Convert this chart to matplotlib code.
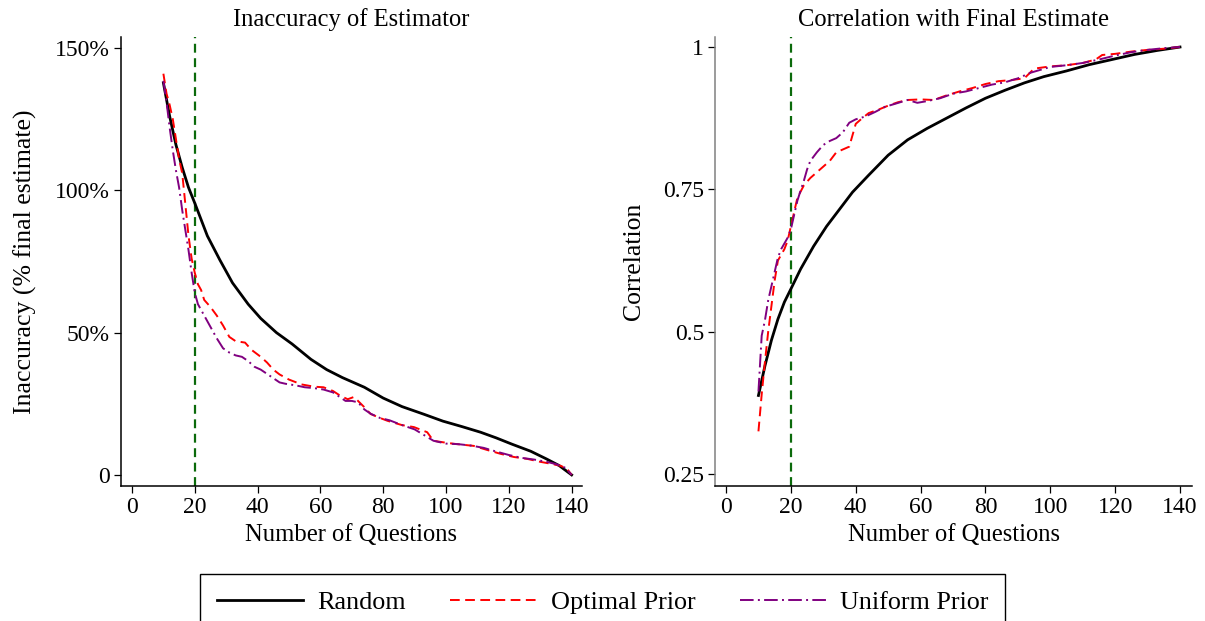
import numpy as np
import matplotlib
matplotlib.use('Agg')
import matplotlib.pyplot as plt
from matplotlib.ticker import FixedLocator, FixedFormatter

plt.rcParams['font.family'] = ['Liberation Serif', 'DejaVu Serif']

# Left panel: inaccuracy (% of final estimate) by number of questions
inacc_random_x = [10, 12, 14, 16, 18, 20, 24, 28, 32, 37, 41, 46, 51, 57, 62, 67, 74, 80, 86, 93,
                  99, 105, 111, 116, 121, 127, 132, 136, 140]
inacc_random_y = [137.8, 126, 116, 108, 101, 95.5, 84, 75.5, 67.5, 60, 55, 50, 46, 40.6, 37, 34.2,
                  30.8, 27, 24, 21.3, 18.9, 17, 15, 13, 10.8, 8.3, 5.6, 3.3, 0]

inacc_optimal_x = [10, 11, 12, 13, 15, 16, 17, 18, 19, 20, 21, 22, 23, 25, 27, 29, 31, 33, 36, 38,
                   41, 43, 45, 47, 50, 54, 58, 61, 64, 66.5, 68.7, 70.7, 73.8, 76, 79, 81.4, 86,
                   89.8, 94, 96, 100, 103.6, 108.8, 113, 117.4, 121.6, 126, 130, 133, 136.5, 138.5, 140]
inacc_optimal_y = [141, 134, 130, 125, 111, 106, 95, 84, 76, 71, 67, 65, 61.5, 59, 56, 52.5, 48.5,
                   47, 46.5, 44, 41.5, 39.5, 37, 35.3, 33.5, 31.8, 31, 30.8, 29.5, 27.7, 26.6, 27.4,
                   24, 21.4, 20, 19, 17.5, 16.8, 15, 12, 11.3, 10.8, 10.2, 8.8, 7.4, 6.3, 5.6, 4.6,
                   4.0, 3.2, 2.2, 0]

inacc_uniform_x = [10, 11, 12, 13, 14, 15, 16, 17, 18, 19, 20, 21, 22, 23, 25, 27, 29, 31, 33, 35,
                   37, 39, 41, 43, 45, 47, 49, 52, 55, 58, 61, 64, 66, 68, 70, 72, 74, 76, 79, 82,
                   86, 90, 93, 96, 100, 104, 108, 112, 116, 120, 124, 128, 132, 135, 138, 140]
inacc_uniform_y = [138.5, 131, 122, 114, 107, 101, 93, 86, 79, 71, 64, 60, 58, 56, 52, 48, 44.5,
                   43, 42, 41.5, 40, 38, 37, 35.5, 34, 32.5, 32, 31.5, 30.8, 30.5, 30, 29, 27.5,
                   26, 26, 25.5, 23, 21.5, 20, 19.2, 17.5, 16, 14, 12, 11, 10.8, 10.3, 9.5, 8.2,
                   7, 6, 5.4, 4.6, 3.8, 2.5, 0]

# Right panel: correlation with final estimate
corr_random_x = [10, 12, 14, 16, 18, 20, 23, 27, 31, 35, 39, 44, 50, 56, 62, 68, 74, 80, 86, 92,
                 98, 105, 112, 119, 126, 133, 140]
corr_random_y = [0.388, 0.44, 0.485, 0.522, 0.552, 0.575, 0.61, 0.65, 0.685, 0.715, 0.745, 0.775,
                 0.81, 0.837, 0.857, 0.875, 0.893, 0.91, 0.924, 0.937, 0.948, 0.958, 0.969, 0.978,
                 0.987, 0.994, 1.0]

corr_optimal_x = [10, 11, 12, 13, 14, 15, 16, 17, 18, 19, 20, 21, 22, 24, 26, 28, 30, 32, 34, 36,
                  38, 39, 40, 42, 44, 47, 50, 53, 56, 60, 64, 68, 72, 76, 80, 84, 88, 92, 95, 100,
                  105, 110, 114, 116, 120, 125, 130, 135, 140]
corr_optimal_y = [0.325, 0.39, 0.447, 0.5, 0.545, 0.59, 0.625, 0.635, 0.645, 0.66, 0.685, 0.71,
                  0.735, 0.757, 0.77, 0.78, 0.79, 0.8, 0.815, 0.82, 0.825, 0.845, 0.865, 0.875,
                  0.884, 0.89, 0.897, 0.903, 0.907, 0.908, 0.907, 0.915, 0.922, 0.928, 0.935,
                  0.94, 0.942, 0.945, 0.962, 0.966, 0.968, 0.972, 0.978, 0.986, 0.988, 0.992,
                  0.995, 0.997, 1.0]

corr_uniform_x = [10, 11, 12, 13, 14, 15, 16, 17, 18, 19, 20, 21, 22, 23, 24, 25, 26, 28, 30, 32,
                  34, 36, 38, 40, 43, 46, 49, 52, 56, 59, 62, 66, 70, 74, 78, 82, 86, 90, 94, 100,
                  105, 110, 115, 120, 125, 130, 135, 140]
corr_uniform_y = [0.395, 0.493, 0.52, 0.555, 0.58, 0.605, 0.63, 0.645, 0.655, 0.665, 0.68, 0.705,
                  0.73, 0.748, 0.765, 0.785, 0.8, 0.815, 0.828, 0.835, 0.84, 0.85, 0.867, 0.873,
                  0.878, 0.886, 0.895, 0.9, 0.907, 0.902, 0.905, 0.91, 0.918, 0.922, 0.928, 0.934,
                  0.938, 0.945, 0.955, 0.965, 0.968, 0.972, 0.978, 0.985, 0.991, 0.995, 0.998, 1.0]

x_ticks = [0, 20, 40, 60, 80, 100, 120, 140]
inacc_ticks = [0, 50, 100, 150]
inacc_tick_labels = ['0', '50%', '100%', '150%']
corr_ticks = [0.25, 0.5, 0.75, 1.0]
corr_tick_labels = ['0.25', '0.5', '0.75', '1']
cutoff = 20

series_names = ['Random', 'Optimal Prior', 'Uniform Prior']

fs = 17        # tick labels
fs_title = 17.7
fs_ylab = 18.5

figure = plt.figure(figsize=(12.05, 6.21), dpi=100)
ax1 = figure.add_axes([121/1205, 1 - 486/621, 461/1205, 449/621])
ax2 = figure.add_axes([715/1205, 1 - 486/621, 477/1205, 449/621])


def style_lines(axis, xs, ys):
    h1, = axis.plot(xs[0], ys[0], color='black', lw=2.0, solid_joinstyle='round')
    h2, = axis.plot(xs[1], ys[1], color='red', lw=1.4, dashes=(5, 2.8))
    h3, = axis.plot(xs[2], ys[2], color='#800080', lw=1.4, dashes=(7, 2.2, 1, 2.2))
    axis.axvline(cutoff, color='#0b6a0b', lw=1.6, dashes=(4, 2.5), zorder=0)
    return [h1, h2, h3]


handles = style_lines(ax1, [inacc_random_x, inacc_optimal_x, inacc_uniform_x],
                      [inacc_random_y, inacc_optimal_y, inacc_uniform_y])
style_lines(ax2, [corr_random_x, corr_optimal_x, corr_uniform_x],
            [corr_random_y, corr_optimal_y, corr_uniform_y])

ax1.set_xlim(-3.5, 143.3)
ax1.set_ylim(-3.9, 153.9)
ax1.yaxis.set_major_locator(FixedLocator(inacc_ticks))
ax1.yaxis.set_major_formatter(FixedFormatter(inacc_tick_labels))
ax1.set_title('Inaccuracy of Estimator', fontsize=fs_title, pad=8)
ax1.set_ylabel('Inaccuracy (% final estimate)', fontsize=fs_ylab, labelpad=13)

ax2.set_xlim(-3.4, 143.7)
ax2.set_ylim(0.229, 1.0176)
ax2.yaxis.set_major_locator(FixedLocator(corr_ticks))
ax2.yaxis.set_major_formatter(FixedFormatter(corr_tick_labels))
ax2.set_title('Correlation with Final Estimate', fontsize=fs_title, pad=8)
ax2.set_ylabel('Correlation', fontsize=fs_ylab, labelpad=13)

for axis in (ax1, ax2):
    axis.set_xticks(x_ticks)
    axis.set_xlabel('Number of Questions', fontsize=fs_title, labelpad=4)
    axis.spines['top'].set_visible(False)
    axis.spines['right'].set_visible(False)
    axis.spines['left'].set_linewidth(1.1)
    axis.spines['bottom'].set_linewidth(1.1)
    axis.tick_params(direction='out', length=5, width=0.9, labelsize=fs, pad=3)
ax2.spines['left'].set_color('#808080')

leg = figure.legend(handles, series_names, loc='upper center', ncol=3,
                    bbox_to_anchor=(0.5, 1 - 574/621), borderaxespad=0, fontsize=18.8,
                    handlelength=3.3, handletextpad=0.55, columnspacing=1.7,
                    fancybox=False, edgecolor='black', framealpha=1, borderpad=0.65)
leg.get_frame().set_linewidth(1.0)

figure.savefig('out.png', dpi=100)
